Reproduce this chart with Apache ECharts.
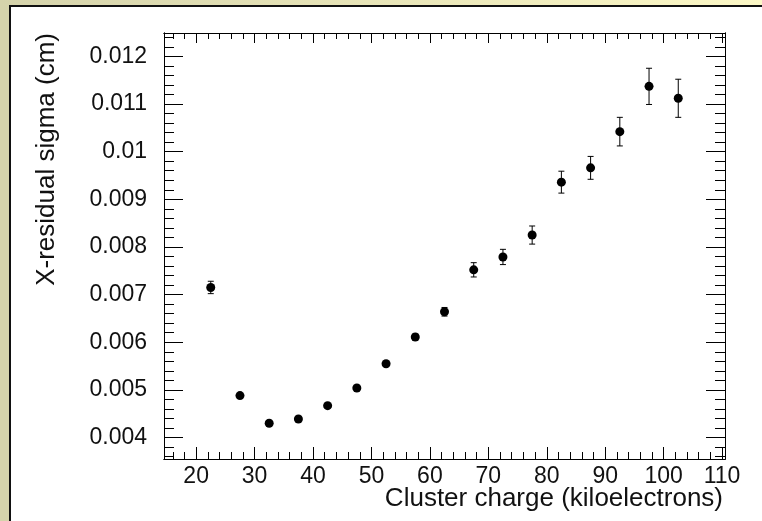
<!DOCTYPE html>
<html>
<head>
<meta charset="utf-8">
<script src="https://cdn.jsdelivr.net/npm/echarts@6/dist/echarts.min.js"></script>
<style>
html,body{margin:0;padding:0;background:#fff;}
#chart{width:762px;height:521px;}
</style>
</head>
<body>
<div id="chart"></div>
<script>
// ---- data ----
const xValues = [22.5, 27.5, 32.5, 37.5, 42.5, 47.5, 52.5, 57.5, 62.5, 67.5, 72.5, 77.5, 82.5, 87.5, 92.5, 97.5, 102.5];
const yValues = [0.00715, 0.00488, 0.00430, 0.00439, 0.00467, 0.00504, 0.00555, 0.00611, 0.00664, 0.00752, 0.00779, 0.00825, 0.00936, 0.00966, 0.01042, 0.01137, 0.01112];
const yErrors = [0.00013, 0.00003, 0.00003, 0.00004, 0.00004, 0.00005, 0.00005, 0.00006, 0.00009, 0.00015, 0.00016, 0.00019, 0.00023, 0.00024, 0.00030, 0.00038, 0.00040];
const xTicks = [20, 30, 40, 50, 60, 70, 80, 90, 100, 110];
const yTicks = [0.004, 0.005, 0.006, 0.007, 0.008, 0.009, 0.01, 0.011, 0.012];
const yTickLabels = ['0.004', '0.005', '0.006', '0.007', '0.008', '0.009', '0.01', '0.011', '0.012'];
const xRange = [14.5, 110.5];
const yRange = [0.00355, 0.01249];
const xTitle = 'Cluster charge (kiloelectrons)';
const yTitle = 'X-residual sigma (cm)';

// minor tick positions (axis decoration)
const xMinor = [];
for (let k = 16; k <= 110; k += 2) if (k % 10 !== 0) xMinor.push(k);
const yMinor = [];
for (let k = 18; k <= 62; k += 1) if (k % 5 !== 0) yMinor.push(+(k * 0.0002).toFixed(5));

const points = xValues.map((x, i) => [x, yValues[i], yErrors[i]]);

const txt = '#111';
const font = 'Liberation Sans, Arial, sans-serif';

function xAx(pos, ticks, len, labels) {
  return {
    type: 'value', position: pos, min: xRange[0], max: xRange[1],
    axisLine: {show: true, onZero: false, lineStyle: {color: '#000', width: 1}},
    axisTick: {show: true, inside: true, length: len, customValues: ticks, lineStyle: {color: '#000', width: 1}},
    axisLabel: labels ? {show: true, customValues: xTicks, fontSize: 23, color: txt, fontFamily: font, margin: 6} : {show: false},
    splitLine: {show: false}
  };
}
function yAx(pos, ticks, len, labels) {
  return {
    type: 'value', position: pos, min: yRange[0], max: yRange[1],
    axisLine: {show: true, onZero: false, lineStyle: {color: '#000', width: 1}},
    axisTick: {show: true, inside: true, length: len, customValues: ticks, lineStyle: {color: '#000', width: 1}},
    axisLabel: labels ? {show: true, customValues: yTicks, fontSize: 23, color: txt, fontFamily: font, margin: 17,
      formatter: v => { const i = yTicks.indexOf(v); return i >= 0 ? yTickLabels[i] : String(v); }} : {show: false},
    splitLine: {show: false}
  };
}

const chart = echarts.init(document.getElementById('chart'), null, {renderer: 'canvas'});
chart.setOption({
  backgroundColor: '#fff',
  animation: false,
  grid: {left: 164, right: 37, top: 33, bottom: 62},
  xAxis: [xAx('bottom', xTicks, 12, true), xAx('bottom', xMinor, 7, false), xAx('top', xTicks, 10, false), xAx('top', xMinor, 6, false)],
  yAxis: [yAx('left', yTicks, 19, true), yAx('left', yMinor, 10, false), yAx('right', yTicks, 19, false), yAx('right', yMinor, 10, false)],
  graphic: [
    {type: 'rect', shape: {x: 0, y: 0, width: 9, height: 521}, style: {fill: '#d5d3ab'}, silent: true},
    {type: 'rect', shape: {x: 0, y: 0, width: 762, height: 5}, silent: true,
      style: {fill: new echarts.graphic.LinearGradient(0, 0, 1, 0, [{offset: 0, color: '#d5d3ab'}, {offset: 1, color: '#fcf8c6'}])}},
    {type: 'rect', shape: {x: 9, y: 5, width: 2, height: 516}, style: {fill: '#111'}, silent: true},
    {type: 'rect', shape: {x: 9, y: 5, width: 753, height: 2}, style: {fill: '#111'}, silent: true},
    {type: 'text', x: 723, y: 499, silent: true,
      style: {text: xTitle, fontSize: 26, fontFamily: font, fill: txt, align: 'right', verticalAlign: 'middle'}},
    {type: 'text', x: 47, y: 33, rotation: Math.PI / 2, silent: true,
      style: {text: yTitle, fontSize: 26, fontFamily: font, fill: txt, align: 'right', verticalAlign: 'middle'}}
  ],
  series: [
    {
      type: 'custom', xAxisIndex: 0, yAxisIndex: 0, z: 3,
      data: points,
      renderItem: function (params, api) {
        const x = api.value(0), y = api.value(1), e = api.value(2);
        const lo = api.coord([x, y - e]);
        const hi = api.coord([x, y + e]);
        const cw = 3;
        const st = {stroke: '#000', lineWidth: 1};
        return {type: 'group', children: [
          {type: 'line', shape: {x1: lo[0], y1: lo[1], x2: hi[0], y2: hi[1]}, style: st},
          {type: 'line', shape: {x1: lo[0] - cw, y1: lo[1], x2: lo[0] + cw, y2: lo[1]}, style: st},
          {type: 'line', shape: {x1: hi[0] - cw, y1: hi[1], x2: hi[0] + cw, y2: hi[1]}, style: st}
        ]};
      }
    },
    {
      type: 'scatter', xAxisIndex: 0, yAxisIndex: 0, z: 4,
      symbol: 'circle', symbolSize: 9,
      itemStyle: {color: '#000', opacity: 1},
      data: points.map(p => [p[0], p[1]])
    }
  ]
});
</script>
</body>
</html>
